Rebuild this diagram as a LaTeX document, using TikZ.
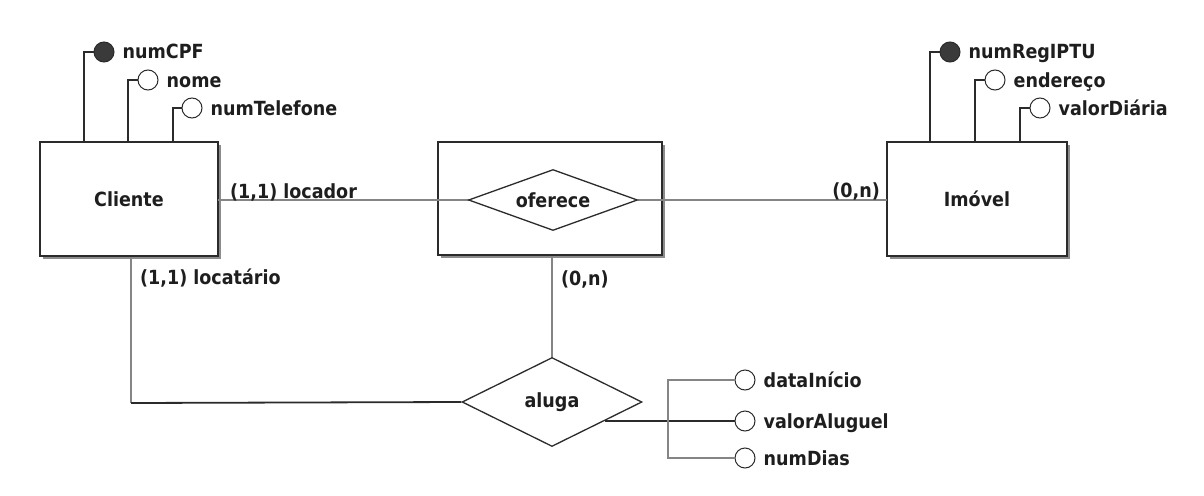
\documentclass[tikz,border=0pt]{standalone}
\usepackage{fontspec}
\setmainfont{DejaVu Sans Condensed}
\usetikzlibrary{shapes.geometric,shadows,calc}
\definecolor{dk}{HTML}{2B2B2B}
\definecolor{gr}{HTML}{858585}
\definecolor{shc}{HTML}{8C8C8C}
\definecolor{txt}{HTML}{1E1E1E}
\definecolor{kc}{HTML}{3A3A3A}
\tikzset{
  lbl/.style={font=\bfseries\fontsize{19.5}{22}\selectfont, text=txt, inner sep=0pt},
  ent/.style={lbl, draw=dk, line width=1.8pt, fill=white,
    drop shadow={shadow xshift=3.2pt, shadow yshift=-3.2pt, fill=shc, opacity=1}},
  rel/.style={lbl, diamond, draw=dk, line width=1.3pt, fill=white},
  att/.style={circle, draw=dk, line width=1pt, fill=white, minimum size=20pt, inner sep=0pt},
  katt/.style={att, fill=kc},
  dl/.style={draw=dk, line width=1.8pt},
  rl/.style={draw=gr, line width=2pt},
}
\begin{document}
\begin{tikzpicture}[x=1pt,y=-1pt]
\useasboundingbox[fill=white] (0,0) rectangle (1204,495);

% entities and relationships
\node[ent, minimum width=178pt, minimum height=114pt] (cli) at (129,199) {Cliente};
\node[ent, minimum width=224pt, minimum height=113pt] (ofbox) at (550,198.5) {};
\node[ent, minimum width=180pt, minimum height=114pt] (imo) at (977,199) {Imóvel};

% relationship connectors
\draw[rl] (ofbox.south -| 552,0) coordinate (obs) -- (552,358) coordinate (alt);
\draw[rl] (218,200) coordinate (ce) -- (469,200) coordinate (ow);
\draw[rl] (638,200) coordinate (oe) -- (887,200) coordinate (iw);

\node[rel, aspect=2.77, minimum width=169pt, minimum height=61pt] (of) at (553,200) {oferece};
\node[rel, aspect=2.02, minimum width=180pt, minimum height=89pt] (al) at (552,402) {aluga};

\draw[rl] (cli.south -| 131,0) -- (131,403) coordinate (cor);
\draw[dl] (cor) -- (al.west);

% Cliente attributes
\node[katt] (c1) at (104,52) {};
\node[att]  (c2) at (148,80) {};
\node[att]  (c3) at (192,108) {};
\draw[dl] (c1.west) -| ($(cli.north west)+(45,0)$);
\draw[dl] (c2.west) -| ($(cli.north west)+(89,0)$);
\draw[dl] (c3.west) -| ($(cli.north west)+(134,0)$);
\node[lbl, anchor=base west] (tc1) at ($(c1.east)+(8,7)$) {numCPF};
\node[lbl, anchor=base west] (tc2) at ($(c2.east)+(8,7)$) {nome};
\node[lbl, anchor=base west] (tc3) at ($(c3.east)+(8,7)$) {numTelefone};

% Imovel attributes
\node[katt] (i1) at (950,52) {};
\node[att]  (i2) at (995,80) {};
\node[att]  (i3) at (1040,108) {};
\draw[dl] (i1.west) -| ($(imo.north west)+(44,0)$);
\draw[dl] (i2.west) -| ($(imo.north west)+(89,0)$);
\draw[dl] (i3.west) -| ($(imo.north west)+(134,0)$);
\node[lbl, anchor=base west] (ti1) at ($(i1.east)+(8,7)$) {numRegIPTU};
\node[lbl, anchor=base west] (ti2) at ($(i2.east)+(8,7)$) {endereço};
\node[lbl, anchor=base west] (ti3) at ($(i3.east)+(8,7)$) {valorDiária};

% aluga attributes
\node[att] (a1) at (745,380) {};
\node[att] (a2) at (745,421) {};
\node[att] (a3) at (745,458) {};
\coordinate (ap) at ($(al.east)!0.42!(al.south)$);
\draw[dl] (a2.west -| ap) -- (a2.west);
\draw[rl] (a1.west) -| ($(a3.west)+(-67,0)$) -- (a3.west);
\node[lbl, anchor=base west] (ta1) at ($(a1.east)+(8,7)$) {dataInício};
\node[lbl, anchor=base west] (ta2) at ($(a2.east)+(8,7)$) {valorAluguel};
\node[lbl, anchor=base west] (ta3) at ($(a3.east)+(8,7)$) {numDias};

% cardinality labels
\node[lbl, anchor=base west] (l1) at (230,198) {(1,1) locador};
\node[lbl, anchor=base west] (l2) at (140,284) {(1,1) locatário};
\node[lbl, anchor=base west] (l3) at (561,285) {(0,n)};
\node[lbl, anchor=base east] (l4) at (880,197) {(0,n)};
\end{tikzpicture}
\end{document}
